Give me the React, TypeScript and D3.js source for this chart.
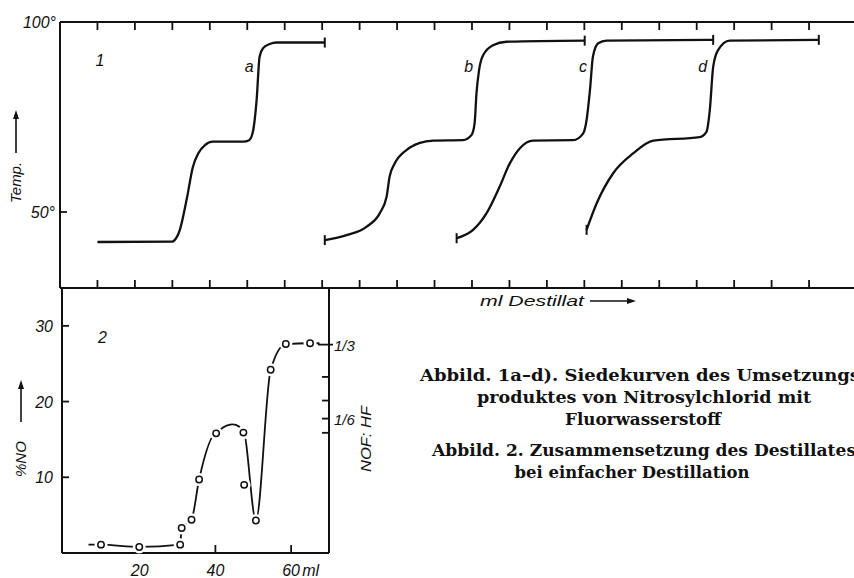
import React from 'react';
import * as d3 from 'd3';

const W = 854;
const H = 578;

// Abbild. 1: Siedekurven a-d, x in Teilstrichen (ml Destillat), y in Grad
const curveA: [number, number][] = [
  [1.0, 42.1], [3.0, 42.2], [3.06, 42.6], [3.2, 45.3], [3.38, 53.2], [3.55, 61.9], [3.69, 65.4],
  [3.87, 67.6], [4.08, 68.5], [4.89, 68.5], [5.05, 68.9], [5.15, 71.1], [5.25, 79.5], [5.33, 90.9],
  [5.42, 93.1], [5.6, 94.2], [5.78, 94.6], [7.07, 94.6],
];
const curveB: [number, number][] = [
  [7.07, 42.6], [7.65, 43.9], [8.18, 46.1], [8.54, 49.7], [8.72, 54.0], [8.8, 59.3], [8.94, 62.8],
  [9.25, 66.3], [9.61, 68.2], [9.96, 68.8], [10.76, 68.9], [10.99, 70.3], [11.07, 73.3], [11.12, 81.2],
  [11.19, 87.4], [11.3, 91.3], [11.56, 93.9], [11.92, 94.8], [14.01, 95.1],
];
const curveC: [number, number][] = [
  [10.59, 43.1], [11.03, 45.3], [11.39, 49.7], [11.74, 56.7], [12.01, 62.8], [12.28, 66.8], [12.63, 68.8],
  [13.7, 68.9], [13.97, 70.7], [14.06, 74.2], [14.15, 82.1], [14.23, 90.9], [14.37, 94.4], [14.59, 95.1],
  [17.44, 95.3],
];
const curveD: [number, number][] = [
  [14.06, 45.3], [14.33, 52.3], [14.77, 60.2], [15.3, 65.4], [15.84, 68.8], [17.08, 69.7], [17.26, 71.1],
  [17.35, 76.8], [17.44, 88.2], [17.57, 92.6], [17.88, 95.1], [20.26, 95.3],
];
const curves = [curveA, curveB, curveC, curveD];
const curveNames = ['a', 'b', 'c', 'd'];
const startTick = [false, true, true, true];
const topTicks = d3.range(1, 21);
const tempTicks = [50];

// Abbild. 2: Zusammensetzung des Destillates
const mlValues = [9.8, 19.9, 30.7, 31.1, 33.7, 35.7, 40.2, 47.4, 47.6, 50.7, 54.6, 58.6, 65.0];
const noPercent = [1.1, 0.8, 1.1, 3.3, 4.4, 9.7, 15.8, 15.9, 9.0, 4.3, 24.2, 27.6, 27.7];
const offLine = [8]; // Punkt neben der Kurve
const humpBetween = [6, 7]; // Kurve wölbt sich zwischen diesen Punkten
const lineFromMl = 6.5;
const lineToMl = 67.5;
const mlTicks = [20, 40, 60];
const noTicks = [10, 20, 30];
const hfPerNof = [3, 4, 5, 6, 7];
const ratioLabels: Record<number, string> = { 3: '1/3', 6: '1/6' };

const captionLines = [
  'Abbild. 1a–d). Siedekurven des Umsetzungs',
  'produktes von Nitrosylchlorid mit',
  'Fluorwasserstoff',
  'Abbild. 2. Zusammensetzung des Destillates',
  'bei einfacher Destillation',
];

const xTop = d3.scaleLinear().domain([0, 21.2]).range([60, 854]);
const yTop = d3.scaleLinear().domain([30, 100]).range([288, 22]);
const xBot = d3.scaleLinear().domain([-0.5, 70]).range([62, 329]);
const yBot = d3.scaleLinear().domain([0, 35]).range([553, 288]);

const lab = { fontFamily: 'Liberation Sans, Arial, sans-serif', fontStyle: 'italic' as const, fill: '#111' };
const capt = { fontFamily: 'DejaVu Serif, serif', fontWeight: 700, fontSize: 17, fill: '#111' };

function Arrow({ x1, y1, x2, y2 }: { x1: number; y1: number; x2: number; y2: number }) {
  const a = Math.atan2(y2 - y1, x2 - x1);
  const L = 9, w = 3;
  const bx = x2 - L * Math.cos(a), by = y2 - L * Math.sin(a);
  const px = -Math.sin(a) * w, py = Math.cos(a) * w;
  return (
    <g>
      <line x1={x1} y1={y1} x2={bx} y2={by} stroke="#111" strokeWidth={1.6} />
      <path d={`M${x2},${y2}L${bx + px},${by + py}L${bx - px},${by - py}Z`} fill="#111" />
    </g>
  );
}

export default function App() {
  const topLine = d3.line<[number, number]>()
    .x(d => xTop(d[0]))
    .y(d => yTop(d[1]))
    .curve(d3.curveMonotoneX);

  const pts = mlValues.map((m, i) => ({ m, p: noPercent[i], i }));
  const linePts = pts.filter(d => !offLine.includes(d.i));
  const first = linePts[0], last = linePts[linePts.length - 1];
  const pathPts = [{ m: lineFromMl, p: first.p, i: -1 }, ...linePts, { m: lineToMl, p: last.p, i: -2 }];
  const mainLine = d3.line<{ m: number; p: number }>()
    .x(d => xBot(d.m))
    .y(d => yBot(d.p))
    .curve(d3.curveMonotoneX);
  const humpLine = d3.line<{ m: number; p: number }>()
    .x(d => xBot(d.m))
    .y(d => yBot(d.p))
    .curve(d3.curveCardinal.tension(0));
  const hA = linePts.findIndex(d => d.i === humpBetween[0]);
  const humpPts = linePts.slice(hA - 1, hA + 3);
  const hx0 = xBot(pts[humpBetween[0]].m), hx1 = xBot(pts[humpBetween[1]].m);

  const ratioToNo = (n: number) => (30 / (49 + 20 * n)) * 100;

  return (
    <svg width={W} height={H} style={{ position: 'absolute', left: 0, top: 0, background: '#fff' }}>
      <defs>
        <clipPath id="mainClip">
          <rect x={0} y={0} width={hx0} height={H} />
          <rect x={hx1} y={0} width={W - hx1} height={H} />
        </clipPath>
        <clipPath id="humpClip">
          <rect x={hx0} y={0} width={hx1 - hx0} height={H} />
        </clipPath>
      </defs>
      <rect width={W} height={H} fill="#fff" />

      {/* Abbild. 1 Rahmen */}
      <g stroke="#111" strokeWidth={2}>
        <line x1={xTop(0)} y1={yTop(100)} x2={W} y2={yTop(100)} />
        <line x1={xTop(0)} y1={yTop(100)} x2={xTop(0)} y2={yTop(30)} />
        <line x1={xTop(0)} y1={yTop(30)} x2={W} y2={yTop(30)} />
      </g>
      <g stroke="#111" strokeWidth={1.8}>
        {topTicks.map(t => (
          <g key={t}>
            <line x1={xTop(t)} x2={xTop(t)} y1={yTop(100)} y2={yTop(100) + 8} />
            <line x1={xTop(t)} x2={xTop(t)} y1={yTop(30)} y2={yTop(30) - 8} />
          </g>
        ))}
        {tempTicks.map(t => (
          <line key={t} x1={xTop(0)} x2={xTop(0) + 7} y1={yTop(t)} y2={yTop(t)} />
        ))}
      </g>
      <text x={xTop(0) - 4} y={yTop(100) + 6} textAnchor="end" fontSize={16} {...lab}>100°</text>
      {tempTicks.map(t => (
        <text key={t} x={xTop(0) - 5} y={yTop(t) + 6} textAnchor="end" fontSize={16} {...lab}>{t}°</text>
      ))}
      <text transform={`translate(21,203) rotate(-90)`} fontSize={15} {...lab}>Temp.</text>
      <Arrow x1={16} y1={153} x2={16} y2={110} />
      <text x={xTop(0.95)} y={yTop(88.5)} fontSize={16} {...lab}>1</text>

      {curves.map((c, k) => {
        const hi = c.find(d => d[1] >= 86) as [number, number];
        const s = c[0], e = c[c.length - 1];
        return (
          <g key={k}>
            <path d={topLine(c) as string} fill="none" stroke="#111" strokeWidth={2.3} strokeLinejoin="round" />
            {startTick[k] && (
              <line x1={xTop(s[0])} x2={xTop(s[0])} y1={yTop(s[1]) - 5} y2={yTop(s[1]) + 5} stroke="#111" strokeWidth={2} />
            )}
            <line x1={xTop(e[0])} x2={xTop(e[0])} y1={yTop(e[1]) - 5} y2={yTop(e[1]) + 5} stroke="#111" strokeWidth={2} />
            <text x={xTop(hi[0]) - 6} y={yTop(88.4) + 6} textAnchor="end" fontSize={16} {...lab}>{curveNames[k]}</text>
          </g>
        );
      })}

      <text x={480} y={306} fontSize={14} textLength={104} lengthAdjust="spacingAndGlyphs" {...lab}>ml Destillat</text>
      <Arrow x1={590} y1={301} x2={636} y2={301} />

      {/* Abbild. 2 Rahmen */}
      <g stroke="#111" strokeWidth={2}>
        <line x1={xBot(-0.5)} y1={yBot(35)} x2={xBot(-0.5)} y2={yBot(0)} />
        <line x1={xBot(-0.5)} y1={yBot(0)} x2={xBot(70)} y2={yBot(0)} />
        <line x1={xBot(70)} y1={yBot(35)} x2={xBot(70)} y2={yBot(0)} />
      </g>
      <g stroke="#111" strokeWidth={1.8}>
        {mlTicks.map(t => (
          <line key={t} x1={xBot(t)} x2={xBot(t)} y1={yBot(0)} y2={yBot(0) - 8} />
        ))}
        {noTicks.map(t => (
          <line key={t} x1={xBot(-0.5)} x2={xBot(-0.5) + 7} y1={yBot(t)} y2={yBot(t)} />
        ))}
        {hfPerNof.map(n => (
          <line key={n} x1={xBot(70) - (n === 3 ? 11 : 7)} x2={xBot(70) + (n === 3 ? 4 : 0)} y1={yBot(ratioToNo(n))} y2={yBot(ratioToNo(n))} />
        ))}
      </g>
      {mlTicks.map(t => (
        <text key={t} x={xBot(t)} y={576} textAnchor="middle" fontSize={16} {...lab}>{t}</text>
      ))}
      <text x={xBot(60) + 11} y={576} fontSize={16} {...lab}>ml</text>
      {noTicks.map(t => (
        <text key={t} x={xBot(-0.5) - 9} y={yBot(t) + 6} textAnchor="end" fontSize={16} {...lab}>{t}</text>
      ))}
      {hfPerNof.filter(n => ratioLabels[n]).map(n => (
        <text key={n} x={xBot(70) + 5} y={yBot(ratioToNo(n)) + 6} fontSize={15} {...lab}>{ratioLabels[n]}</text>
      ))}
      <text transform={`translate(371,472) rotate(-90)`} fontSize={14} textLength={66} lengthAdjust="spacingAndGlyphs" {...lab}>NOF: HF</text>
      <text transform={`translate(26,477) rotate(-90)`} fontSize={15} {...lab}>%NO</text>
      <Arrow x1={21} y1={422} x2={21} y2={380} />
      <text x={98} y={343} fontSize={16} {...lab}>2</text>

      <path d={mainLine(pathPts) as string} fill="none" stroke="#111" strokeWidth={1.8} clipPath="url(#mainClip)" />
      <path d={humpLine(humpPts) as string} fill="none" stroke="#111" strokeWidth={1.8} clipPath="url(#humpClip)" />
      {pts.map(d => (
        <circle key={'h' + d.i} cx={xBot(d.m)} cy={yBot(d.p)} r={6.5} fill="#fff" />
      ))}
      {pts.map(d => (
        <circle key={d.i} cx={xBot(d.m)} cy={yBot(d.p)} r={3.2} fill="#fff" stroke="#111" strokeWidth={1.5} />
      ))}

      {/* Bildunterschrift */}
      <text x={640} y={381} textAnchor="middle" textLength={440} lengthAdjust="spacingAndGlyphs" {...capt}>{captionLines[0]}</text>
      <text x={644} y={403} textAnchor="middle" textLength={334} lengthAdjust="spacingAndGlyphs" {...capt}>{captionLines[1]}</text>
      <text x={643} y={425} textAnchor="middle" textLength={156} lengthAdjust="spacingAndGlyphs" {...capt}>{captionLines[2]}</text>
      <text x={644} y={456} textAnchor="middle" textLength={424} lengthAdjust="spacingAndGlyphs" {...capt}>{captionLines[3]}</text>
      <text x={632} y={478} textAnchor="middle" textLength={235} lengthAdjust="spacingAndGlyphs" {...capt}>{captionLines[4]}</text>
    </svg>
  );
}
